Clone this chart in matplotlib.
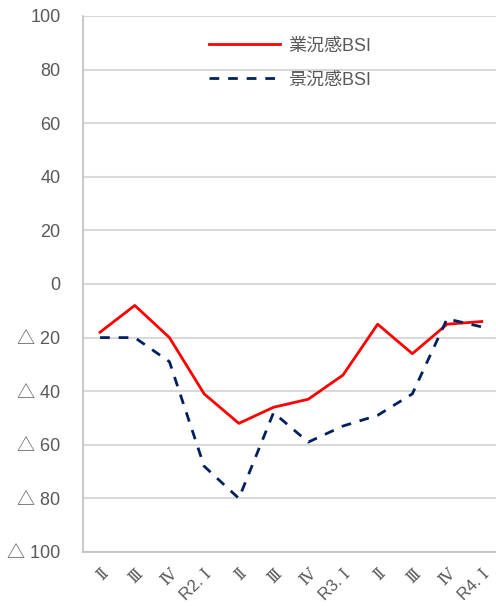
import matplotlib
matplotlib.use('Agg')
import matplotlib.pyplot as plt
import matplotlib.transforms as mtransforms
import numpy as np

plt.rcParams['font.family'] = ['Liberation Sans', 'Noto Sans CJK JP']

quarters = ['Ⅱ', 'Ⅲ', 'Ⅳ', 'R2. Ⅰ', 'Ⅱ', 'Ⅲ', 'Ⅳ', 'R3. Ⅰ', 'Ⅱ', 'Ⅲ', 'Ⅳ', 'R4. Ⅰ']
gyokyo = [-18, -8, -20, -41, -52, -46, -43, -34, -15, -26, -15, -14]
keikyo = [-20, -20, -29, -68, -80, -48, -59, -53, -49, -41, -13, -16]
yticks = [100, 80, 60, 40, 20, 0, -20, -40, -60, -80, -100]
ylabels = ['100', '80', '60', '40', '20', '0', '△ 20', '△ 40', '△ 60', '△ 80', '△ 100']

fig = plt.figure(figsize=(4.96, 6.06), dpi=100)
ax = fig.add_axes([82.7 / 496, 54 / 606, 416.4 / 496, 536 / 606])

x = np.arange(len(quarters))
ax.plot(x, gyokyo, color='#ff0000', lw=2, label='業況感BSI')
ax.plot(x, keikyo, color='#002060', lw=2, ls=(0, (3.5, 3.2)), label='景況感BSI')

ax.set_xlim(-0.5, len(quarters) - 0.5)
ax.set_ylim(-100, 100)
ax.set_yticks(yticks)
ax.set_yticklabels(ylabels)
ax.set_xticks(x)
ax.set_xticklabels(quarters, rotation=45, ha='right', rotation_mode='anchor',
                   fontsize=12, family=['Liberation Sans', 'DejaVu Serif'])
# shift the slanted labels a bit to the left like the original
shift = mtransforms.ScaledTranslation(-6 / 100, 0, fig.dpi_scale_trans)
for lab in ax.get_xticklabels():
    lab.set_transform(lab.get_transform() + shift)

ax.grid(axis='y', color='#d9d9d9', lw=1.5)
ax.set_axisbelow(True)
for s in ['top', 'right']:
    ax.spines[s].set_visible(False)
for s in ['left', 'bottom']:
    ax.spines[s].set_color('#bfbfbf')
    ax.spines[s].set_linewidth(1.2)
ax.tick_params(length=0, colors='#595959')
ax.tick_params(axis='y', labelsize=13, pad=16)
ax.tick_params(axis='x', pad=10)

leg = ax.legend(loc='upper left', bbox_to_anchor=(0.265, 0.99), frameon=False,
                fontsize=13, handlelength=3.9, labelspacing=0.95, handletextpad=0.45)
for t in leg.get_texts():
    t.set_color('#595959')

fig.savefig('out.png', dpi=100)
